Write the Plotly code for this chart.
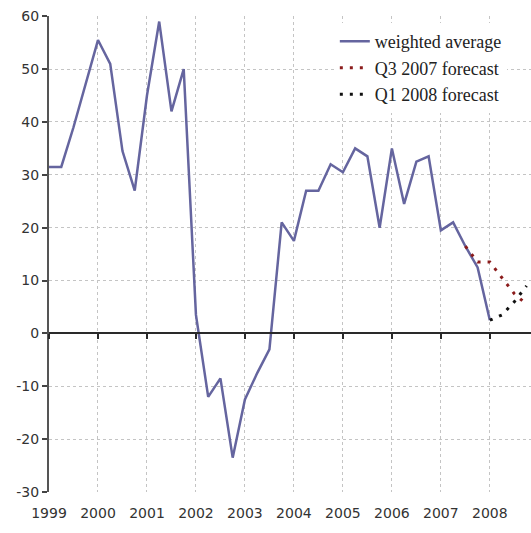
import plotly.graph_objects as go

# quarterly positions (decimal years)
quarters = [1999 + 0.25 * i for i in range(37)]
weighted_average = [31.5, 31.5, 39, 47, 55.5, 51, 34.5, 27,
                    45, 59, 42, 50, 3.5, -12, -8.5, -23.5,
                    -12.5, -7.5, -3, 21, 17.5, 27, 27, 32,
                    30.5, 35, 33.5, 20, 35, 24.5, 32.5, 33.5,
                    19.5, 21, 16.5, 12.5, 2.5]

q3_2007_x = [2007.5, 2007.75, 2008.0, 2008.25, 2008.5, 2008.75]
q3_2007_forecast = [16.5, 13.5, 13.5, 10.5, 7.5, 5.5]

q1_2008_x = [2008.0, 2008.25, 2008.5, 2008.75]
q1_2008_forecast = [2.5, 3.5, 6, 9]

year_ticks = list(range(1999, 2009))
year_labels = [str(y) for y in year_ticks]
y_ticks = list(range(-30, 61, 10))
y_labels = [str(v) for v in y_ticks]

fig = go.Figure()
fig.add_trace(go.Scatter(x=quarters, y=weighted_average, mode="lines",
                         name="weighted average",
                         line=dict(color="#65659f", width=2.5)))
fig.add_trace(go.Scatter(x=q3_2007_x, y=q3_2007_forecast, mode="lines",
                         name="Q3 2007 forecast",
                         line=dict(color="#8b1c1c", width=3, dash="3px,7px")))
fig.add_trace(go.Scatter(x=q1_2008_x, y=q1_2008_forecast, mode="lines",
                         name="Q1 2008 forecast",
                         line=dict(color="#111111", width=3, dash="3px,7px")))
# helper trace for the zero-line axis with ticks
fig.add_trace(go.Scatter(x=[1999, 2008], y=[0, 0], xaxis="x2", mode="lines",
                         line=dict(width=0), opacity=0, showlegend=False,
                         hoverinfo="skip"))

tickfont = dict(family="DejaVu Sans", size=14, color="#333333")
grid = dict(showgrid=True, gridcolor="#c4c4c4", griddash="3px,3px", gridwidth=1)

fig.update_layout(
    width=531, height=533,
    margin=dict(l=49, r=0, t=16, b=41, autoexpand=False),
    plot_bgcolor="white", paper_bgcolor="white",
    xaxis=dict(range=[1999, 2008.84], tickvals=year_ticks, ticktext=year_labels,
               ticks="outside", ticklen=8, tickcolor="rgba(0,0,0,0)",
               showline=False, zeroline=False, tickfont=tickfont,
               automargin=False, **grid),
    xaxis2=dict(overlaying="x", matches="x", anchor="free", position=1/3,
                side="bottom", showline=True, linecolor="#2a2a2a", linewidth=2,
                ticks="outside", ticklen=5, tickcolor="#2a2a2a", tickwidth=2,
                tickvals=year_ticks, showticklabels=False, showgrid=False,
                zeroline=False, automargin=False),
    yaxis=dict(range=[-30, 60.05], tickvals=y_ticks, ticktext=y_labels,
               ticks="outside", ticklen=5,
               tickcolor="#444444", tickwidth=2, showline=True,
               linecolor="#555555", linewidth=2, zeroline=False,
               tickfont=tickfont, automargin=False, **grid),
    legend=dict(x=0.593, xanchor="left", y=0.985, yanchor="top",
                bgcolor="white", borderwidth=0, tracegroupgap=0,
                font=dict(family="Liberation Serif", size=18, color="#222222")),
    showlegend=True,
)

fig.write_html("out.html",
               config={"displayModeBar": False},
               post_script="document.body.style.margin='0';"
                           "document.body.style.overflow='hidden';")
